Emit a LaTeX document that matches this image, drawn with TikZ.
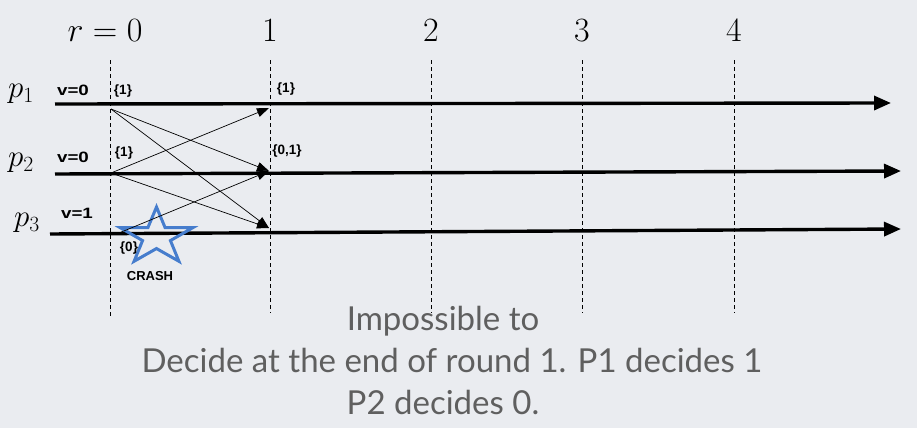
\RequirePackage{fix-cm}
\documentclass[tikz,border=0pt]{standalone}
\usepackage{fontspec}
\setsansfont{Liberation Sans}
\newfontfamily\gill{Lato}
\usetikzlibrary{arrows.meta,shapes.geometric}
\definecolor{bgc}{RGB}{234,236,240}
\definecolor{starblue}{RGB}{70,125,205}
\definecolor{txtgray}{RGB}{95,95,95}
\begin{document}
\begin{tikzpicture}[x=1pt,y=-1pt,
  proc/.style={line width=3.4pt,-{Triangle[length=17pt,width=14pt]}},
  rnd/.style={line width=0.7pt,dash pattern=on 4pt off 3pt},
  msg/.style={line width=0.7pt,-{Triangle[length=12pt,width=9pt]}},
  lab/.style={font=\sffamily\bfseries\fontsize{15}{15}\selectfont,inner sep=0pt,xscale=1.25},
  set/.style={font=\sffamily\bfseries\fontsize{13.5}{13.5}\selectfont,inner sep=0pt},
  crashlab/.style={font=\sffamily\bfseries\fontsize{13}{13}\selectfont,inner sep=0pt},
  math/.style={font=\fontsize{34}{34}\selectfont,inner sep=0pt},
  pl/.style={font=\fontsize{31}{31}\selectfont,inner sep=0pt},
  big/.style={font=\gill\fontsize{33}{33}\selectfont,text=txtgray,inner sep=0pt,anchor=base}]
\fill[bgc] (0,0) rectangle (917,428);
\useasboundingbox (0,0) rectangle (917,428);
% round markers
\node[math] (r0) at (105,31) {$r=0$};
\node[math] (r1) at (270,31) {$1$};
\node[math] (r2) at (431,31) {$2$};
\node[math] (r3) at (582,31) {$3$};
\node[math] (r4) at (734,31) {$4$};
\coordinate (d0t) at (110,60); \coordinate (d0b) at (110,318);
\coordinate (d1t) at (270,60); \coordinate (d1b) at (270,313);
\coordinate (d2t) at (431,60); \coordinate (d2b) at (431,313);
\coordinate (d3t) at (582,60); \coordinate (d3b) at (582,313);
\coordinate (d4t) at (734,60); \coordinate (d4b) at (734,313);
\foreach \i in {0,...,4} {\draw[rnd] (d\i t) -- (d\i b);}
% processes
\node[pl] (p1) at (21,94) {$p_1$};
\node[pl] (p2) at (21,163) {$p_2$};
\node[pl] (p3) at (27,223) {$p_3$};
\coordinate (a1) at (55,104); \coordinate (b1) at (891,103);
\coordinate (a2) at (55,174); \coordinate (b2) at (901,171);
\coordinate (a3) at (50,234); \coordinate (b3) at (901,229);
\draw[proc] (a1) -- (b1);
\draw[proc] (a2) -- (b2);
\draw[proc] (a3) -- (b3);
\node[lab] (v1) at (73,90) {v=0};
\node[lab] (v2) at (73,157) {v=0};
\node[lab] (v3) at (77,213) {v=1};
\node[set] (s10) at (123,91) {\{1\}};
\node[set] (s20) at (124,153) {\{1\}};
\node[set] (s11) at (286,89) {\{1\}};
\node[set] (s21) at (287,151) {\{0,1\}};
% crash star
\node[star,star points=5,star point ratio=2.6,minimum size=60pt,xscale=1.27,draw=starblue,line width=3pt,inner sep=0pt] (star) at (156.5,237) {};
\node[set] (s30) at (129,248) {\{0\}};
\node[crashlab] (crash) at (150,276) {CRASH};
% messages
\coordinate (m1s) at (111,109);
\coordinate (m2s) at (111,173);
\coordinate (m3s) at (119,233);
\coordinate (m1e) at (269,108);
\coordinate (m2e) at (269,171);
\coordinate (m3e) at (269,228);
\draw[msg] (m1s) -- (m2e);
\draw[msg] (m1s) -- (m3e);
\draw[msg] (m2s) -- (m1e);
\draw[msg] (m2s) -- (m3e);
\draw[msg] (m3s) -- (m2e);
% caption
\node[big] (c1) at (443,330) {Impossible to};
\node[big] (c2) at (452,372) {Decide at the end of round 1. P1 decides 1};
\node[big] (c3) at (443,414) {P2 decides 0.};
\end{tikzpicture}
\end{document}
